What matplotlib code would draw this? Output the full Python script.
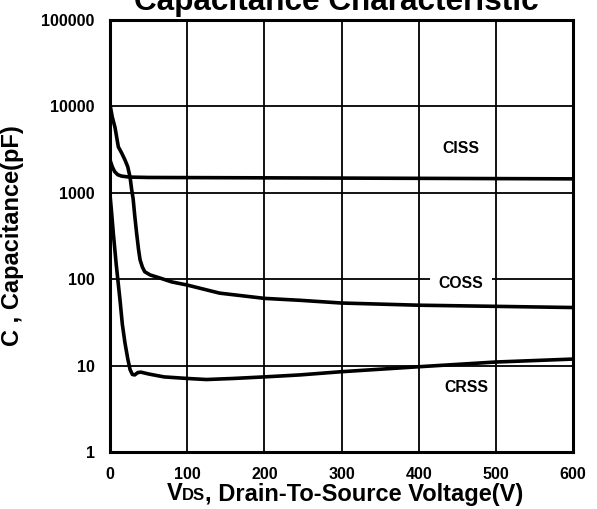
import matplotlib
matplotlib.use("Agg")
import matplotlib.pyplot as plt
from matplotlib.offsetbox import TextArea, HPacker, AnchoredOffsetbox

plt.rcParams['font.family'] = ['Liberation Sans', 'DejaVu Sans']
plt.rcParams['font.weight'] = 'bold'

ciss_v = [0, 3, 6, 10, 15, 25, 50, 100, 200, 300, 400, 500, 600]
ciss_c = [2400, 2000, 1760, 1620, 1560, 1520, 1505, 1500, 1490, 1480, 1470, 1460, 1450]

coss_v = [0, 3, 6.5, 10.8, 15, 19.4, 23, 26, 28, 30, 32, 34.5, 37, 39, 42, 45, 52, 65, 80, 99, 142, 200, 246, 300, 400, 500, 600]
coss_c = [10500, 7500, 5700, 3400, 2900, 2400, 2000, 1520, 1100, 850, 550, 340, 220, 167, 138, 122, 112, 103, 93, 86, 69, 60, 57, 53, 50, 48.5, 47]

crss_v = [0, 2, 4.3, 8, 13, 16, 19.4, 23, 26, 29, 32, 36, 40, 50, 70, 100, 125, 160, 200, 246, 300, 400, 500, 600]
crss_c = [950, 600, 340, 150, 57, 30, 18.3, 12, 9, 7.9, 7.8, 8.3, 8.4, 8.0, 7.4, 7.1, 6.9, 7.1, 7.4, 7.8, 8.5, 9.7, 11.0, 11.9]

x_ticks = [0, 100, 200, 300, 400, 500, 600]
y_ticks = [1, 10, 100, 1000, 10000, 100000]
y_tick_labels = ["1", "10", "100", "1000", "10000", "100000"]

fig = plt.figure(figsize=(5.97, 5.09), dpi=100)
ax = fig.add_axes([110/597, 1-452/509, (573-110)/597, (452-20)/509])

ax.set_yscale('log')
ax.set_xlim(0, 600)
ax.set_ylim(1, 100000)
ax.set_xticks(x_ticks)
ax.set_xticklabels([str(t) for t in x_ticks])
ax.set_yticks(y_ticks)
ax.set_yticklabels(y_tick_labels)
ax.minorticks_off()
ax.tick_params(length=0, labelsize=11.5, pad=11)
for lab in ax.get_xticklabels() + ax.get_yticklabels():
    lab.set_fontweight('bold')

ax.grid(True, color='black', linewidth=1.3)
for s in ax.spines.values():
    s.set_linewidth(2.2)
    s.set_color('black')

lw = 2.6
ax.plot(ciss_v, ciss_c, color='black', lw=lw, solid_capstyle='butt')
ax.plot(coss_v, coss_c, color='black', lw=lw, solid_capstyle='butt')
ax.plot(crss_v, crss_c, color='black', lw=lw, solid_capstyle='butt')

ax.text(455, 3300, "CISS", ha='center', va='center', fontsize=11.3, fontweight='bold')
ax.text(455, 90, "COSS", ha='center', va='center', fontsize=11.3, fontweight='bold',
        bbox=dict(facecolor='white', edgecolor='none', pad=6))
ax.text(462, 5.65, "CRSS", ha='center', va='center', fontsize=11.3, fontweight='bold')

ax.set_ylabel("C , Capacitance(pF)", fontsize=17, fontweight='bold')
ax.yaxis.set_label_coords((24-110)/463, 0.5)

fig.text(336/597, 1-10/509, "Capacitance Characteristic", ha='center', va='baseline',
         fontsize=22.7, fontweight='bold')

t1 = TextArea("V", textprops=dict(fontsize=17, fontweight='bold'))
t2 = TextArea("DS", textprops=dict(fontsize=12, fontweight='bold'))
t3 = TextArea(", Drain-To-Source Voltage(V)", textprops=dict(fontsize=17, fontweight='bold'))
box = HPacker(children=[t1, t2, t3], align="baseline", pad=0, sep=0)
anch = AnchoredOffsetbox(loc='center', child=box, frameon=False,
                         bbox_to_anchor=(345/597, 1-494/509), bbox_transform=fig.transFigure,
                         borderpad=0)
fig.add_artist(anch)

fig.savefig("out.png", dpi=100)
